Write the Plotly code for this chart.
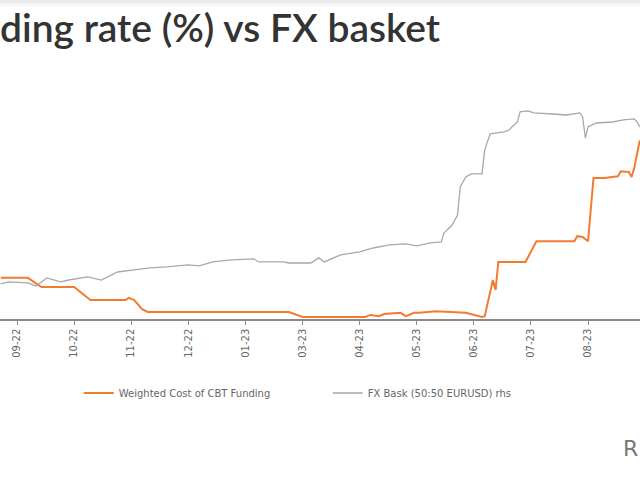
import plotly.graph_objects as go

# Trading-day index (labels every 21 trading days)
tick_days = [0, 21, 42, 63, 84, 105, 126, 147, 168, 189, 210]
tick_labels = ["09-22", "10-22", "11-22", "12-22", "01-23", "03-23",
               "04-23", "05-23", "06-23", "07-23", "08-23"]

# Weighted Cost of CBT Funding (%)
cbt_day = [-6, 4, 9, 21, 27, 40, 41, 43, 46, 48, 100, 105, 128, 130, 133, 135,
           141, 143, 146, 148, 154, 163, 165, 171, 172, 175, 176, 177, 187, 191,
           205, 206, 208, 210, 212, 216, 221, 222, 225, 226, 227, 229]
cbt_val = [13.1, 13.1, 12.0, 12.0, 10.45, 10.45, 10.7, 10.45, 9.35, 9.0, 9.0, 8.4, 8.4, 8.65, 8.5, 8.75,
           8.9, 8.5, 8.9, 8.9, 9.1, 9.0, 8.9, 8.4, 8.5, 12.85, 11.65, 15.0, 15.0, 17.5,
           17.5, 18.1, 18.0, 17.5, 25.1, 25.1, 25.3, 25.9, 25.8, 25.2, 26.3, 29.6]

# FX Basket (50:50 EURUSD) rhs
fx_day = [-6, -3, 4, 7, 11, 16, 19, 26, 31, 37, 43, 49, 55, 63, 67, 72, 79, 87, 89,
          98, 100, 108, 111, 113, 119, 126, 131, 137, 143, 147, 152, 156, 157, 160,
          162, 163, 165, 167, 171, 172, 174, 179, 181, 182, 184, 185, 188, 190, 197,
          202, 207, 208, 209, 210, 213, 219, 223, 227, 228, 229]
fx_val = [18.2, 18.32, 18.26, 18.08, 18.55, 18.32, 18.43, 18.61, 18.43, 18.9, 19.02, 19.14,
          19.2, 19.32, 19.26, 19.49, 19.61, 19.67, 19.49, 19.49, 19.43, 19.43, 19.73, 19.49,
          19.9, 20.08, 20.31, 20.49, 20.55, 20.43, 20.61, 20.67, 21.19, 21.66, 22.25, 23.9,
          24.48, 24.66, 24.66, 26.07, 27.01, 27.13, 27.24, 27.42, 27.71, 28.3, 28.36, 28.24,
          28.18, 28.12, 28.24, 28.01, 26.77, 27.42, 27.65, 27.71, 27.83, 27.89, 27.71, 27.42]

title_text = "ding rate (%) vs FX basket"
source_text = "R"

fig = go.Figure()
fig.add_trace(go.Scatter(x=cbt_day, y=cbt_val, mode="lines",
                         name="Weighted Cost of CBT Funding",
                         line=dict(color="#F47A30", width=2)))
fig.add_trace(go.Scatter(x=fx_day, y=fx_val, mode="lines",
                         name="FX Bask (50:50 EURUSD) rhs", yaxis="y2",
                         line=dict(color="#A8A8A8", width=1.3)))

fig.update_layout(
    width=640, height=480,
    margin=dict(l=0, r=0, t=60, b=161, autoexpand=False),
    paper_bgcolor="white", plot_bgcolor="white",
    font=dict(family="DejaVu Sans", size=10, color="#666666"),
    title=dict(text=title_text, x=0, xref="container", xanchor="left",
               y=1 - 28 / 480, yanchor="middle", pad=dict(l=0, t=0, r=0, b=0),
               font=dict(family="Lato", size=39, color="#333333", weight=600)),
    xaxis=dict(range=[-6.25, 229.1], tickmode="array", tickvals=tick_days,
               ticktext=tick_labels, tickangle=-90, showgrid=False, zeroline=False,
               automargin=False,
               showline=True, linecolor="#8a8a8a", linewidth=1.5,
               ticks="outside", ticklen=4, tickcolor="#8a8a8a",
               tickfont=dict(family="DejaVu Sans", size=10, color="#666666")),
    yaxis=dict(range=[8.16, 39.25], visible=False, automargin=False),
    yaxis2=dict(range=[16.14, 31.35], overlaying="y", side="right", visible=False,
                automargin=False),
    showlegend=True,
    legend=dict(orientation="h", x=0.123, xanchor="left", y=-0.2857, yanchor="middle",
                entrywidth=204, entrywidthmode="pixels",
                font=dict(family="DejaVu Sans", size=10, color="#666666"),
                bgcolor="rgba(0,0,0,0)"),
    shapes=[
        dict(type="rect", xref="paper", yref="paper", x0=0, x1=1,
             y0=(319 - 3) / 259, y1=(319 + 1) / 259, fillcolor="#ebebeb", line=dict(width=0), layer="above"),
        dict(type="rect", xref="paper", yref="paper", x0=0, x1=1,
             y0=(319 - 6) / 259, y1=(319 - 3) / 259, fillcolor="#f5f5f5", line=dict(width=0), layer="above"),
    ],
    annotations=[
        dict(text=source_text, xref="paper", yref="paper", x=1, xanchor="right",
             y=(319 - 448) / 259, yanchor="middle", showarrow=False,
             font=dict(family="DejaVu Sans", size=22, color="#777777")),
    ],
)

fig.write_html("out.html", config={"displayModeBar": False},
               post_script="document.body.style.margin='0';")
